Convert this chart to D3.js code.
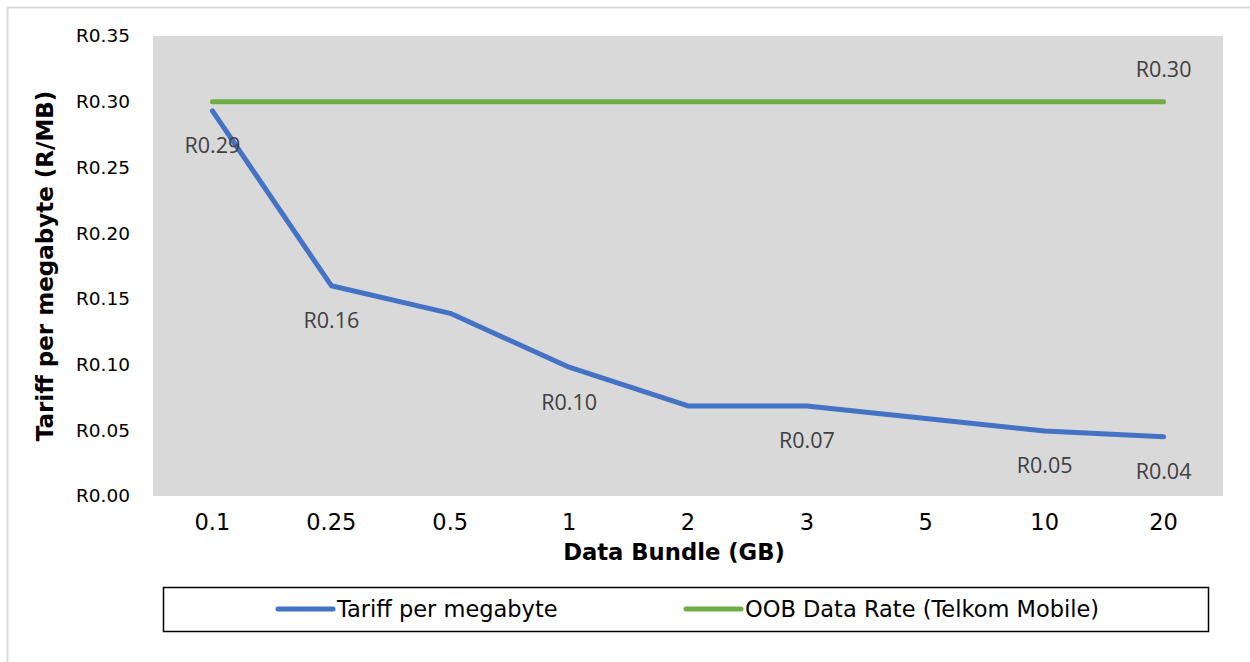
<!DOCTYPE html>
<html><head><meta charset="utf-8">
<script src="https://cdn.jsdelivr.net/npm/d3@7"></script>
<style>body{margin:0;background:#fff}svg{display:block}</style>
</head><body>
<svg id="c" width="1250" height="662"></svg>
<script>
const categories = ["0.1","0.25","0.5","1","2","3","5","10","20"];
const tariff = [0.293,0.160,0.139,0.098,0.0685,0.0685,0.059,0.0495,0.045];
const oob = [0.30,0.30,0.30,0.30,0.30,0.30,0.30,0.30,0.30];
const tariffLabels = ["R0.29","R0.16",null,"R0.10",null,"R0.07",null,"R0.05","R0.04"];
const oobLabels = [null,null,null,null,null,null,null,null,"R0.30"];
const yTicks = [0,0.05,0.10,0.15,0.20,0.25,0.30,0.35];
const seriesNames = ["Tariff per megabyte","OOB Data Rate (Telkom Mobile)"];

const svg = d3.select("#c");
const L=153,R=1223,T=36,B=496;
svg.append("rect").attr("x",7.5).attr("y",7.5).attr("width",1260).attr("height",680)
  .attr("fill","#fff").attr("stroke","#d9d9d9").attr("stroke-width",2);
svg.append("rect").attr("x",L).attr("y",T).attr("width",R-L).attr("height",B-T).attr("fill","#d9d9d9");

const x = d3.scaleBand().domain(categories).range([L,R]);
const y = d3.scaleLinear().domain([0,0.35]).range([B,T]);
const cx = c => x(c)+x.bandwidth()/2;

const yAx = svg.append("g").attr("transform",`translate(${L},0)`)
  .call(d3.axisLeft(y).tickValues(yTicks).tickFormat(d=>"R"+d.toFixed(2)).tickSize(0).tickPadding(23));
yAx.select(".domain").remove();
yAx.selectAll("text").attr("font-family","DejaVu Sans").attr("font-size",18.5).attr("fill","#000");

const xAx = svg.append("g").attr("transform",`translate(0,${B})`)
  .call(d3.axisBottom(x).tickSize(0).tickPadding(18));
xAx.select(".domain").remove();
xAx.selectAll("text").attr("font-family","DejaVu Sans").attr("font-size",22.5).attr("fill","#000");

svg.append("text").attr("x",674).attr("y",560).attr("text-anchor","middle")
  .attr("font-family","DejaVu Sans").attr("font-weight","bold").attr("font-size",22.7).text("Data Bundle (GB)");
svg.append("text").attr("transform",`translate(53,${(T+B)/2}) rotate(-90)`).attr("text-anchor","middle")
  .attr("font-family","DejaVu Sans").attr("font-weight","bold").attr("font-size",23).text("Tariff per megabyte (R/MB)");

const line = d3.line().x((d,i)=>cx(categories[i])).y(d=>y(d));
svg.append("path").datum(oob).attr("d",line).attr("fill","none").attr("stroke","#70ad47")
  .attr("stroke-width",5).attr("stroke-linecap","round").attr("stroke-linejoin","round");
svg.append("path").datum(tariff).attr("d",line).attr("fill","none").attr("stroke","#4472c4")
  .attr("stroke-width",5).attr("stroke-linecap","round").attr("stroke-linejoin","round");

const lab = svg.append("g").attr("font-family","Open Sans").attr("font-size",21.5).attr("fill","#404040").attr("text-anchor","middle");
tariff.forEach((v,i)=>{ if(tariffLabels[i]) lab.append("text").attr("x",cx(categories[i])).attr("y",y(v)+35).attr("dy","0.35em").text(tariffLabels[i]); });
oob.forEach((v,i)=>{ if(oobLabels[i]) lab.append("text").attr("x",cx(categories[i])).attr("y",y(v)-32).attr("dy","0.35em").text(oobLabels[i]); });

// legend
svg.append("rect").attr("x",163.5).attr("y",587.5).attr("width",1045).attr("height",44)
  .attr("fill","#fff").attr("stroke","#000").attr("stroke-width",1.5);
const legX = [278,686], colors=["#4472c4","#70ad47"];
seriesNames.forEach((n,i)=>{
  svg.append("line").attr("x1",legX[i]).attr("x2",legX[i]+55).attr("y1",609).attr("y2",609)
    .attr("stroke",colors[i]).attr("stroke-width",5).attr("stroke-linecap","round");
  svg.append("text").attr("x",legX[i]+59).attr("y",609).attr("dy","0.35em")
    .attr("font-family","DejaVu Sans").attr("font-size",22.5).attr("fill","#000").text(n);
});
</script>
</body></html>
